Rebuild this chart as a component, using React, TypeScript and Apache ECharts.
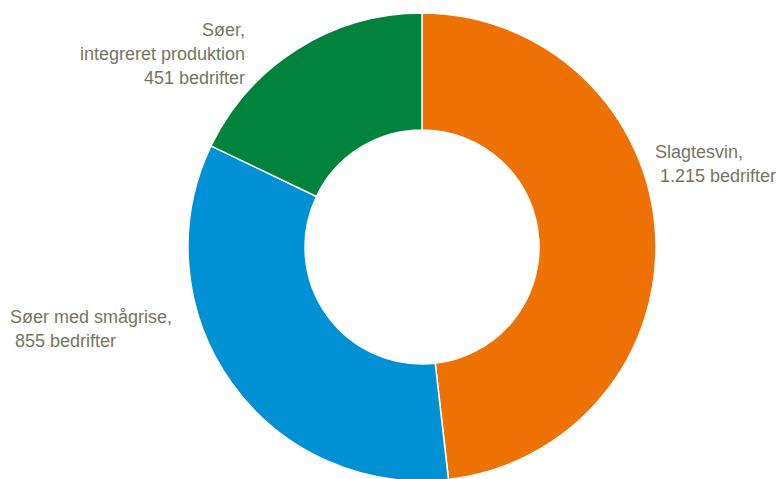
import React, { useEffect, useRef } from "react";
import * as echarts from "echarts";

const categories = ["Slagtesvin", "Søer med smågrise", "Søer, integreret produktion"];
const labelNames = ["Slagtesvin,", "Søer med smågrise,", "Søer,\nintegreret produktion"];
const values = [1215, 855, 451];
const colors = ["#EE7203", "#0090D4", "#00843D"];
const labelPrefixes = [" ", " ", ""];

function fmt(n: number): string {
  return n.toString().replace(/\B(?=(\d{3})+(?!\d))/g, ".");
}

export default function App() {
  const ref = useRef<HTMLDivElement>(null);
  useEffect(() => {
    document.body.style.margin = "0";
    const chart = echarts.init(ref.current!, null, { renderer: "svg" });
    const layouts = [
      { x: 655, y: 140, align: "left" },
      { x: 10, y: 305, align: "left" },
      { x: 245, y: 18, align: "right" },
    ];
    chart.setOption({
      animation: false,
      series: [
        {
          type: "pie",
          center: [422, 247],
          radius: [117, 234],
          startAngle: 90,
          clockwise: true,
          data: categories.map((c, i) => ({
            name: c,
            value: values[i],
            itemStyle: { color: colors[i] },
          })),
          itemStyle: { borderColor: "#ffffff", borderWidth: 1.5 },
          label: {
            show: true,
            position: "outside",
            color: "#76755f",
            fontFamily: "'Liberation Sans Narrow', 'Arial Narrow', 'Liberation Sans', sans-serif",
            fontSize: 18,
            lineHeight: 24,
            overflow: "none",
            width: 300,
            formatter: (p: any) => {
              const i = p.dataIndex;
              return labelNames[i] + "\n" + labelPrefixes[i] + fmt(p.value) + " bedrifter";
            },
          },
          labelLine: { show: false },
          labelLayout: (params: any) => {
            const l = layouts[params.dataIndex];
            return { x: l.x, y: l.y, align: l.align, verticalAlign: "top", hideOverlap: false };
          },
          emphasis: { disabled: true },
        },
      ],
    });
    return () => chart.dispose();
  }, []);
  return <div ref={ref} style={{ width: 776, height: 479 }} />;
}
